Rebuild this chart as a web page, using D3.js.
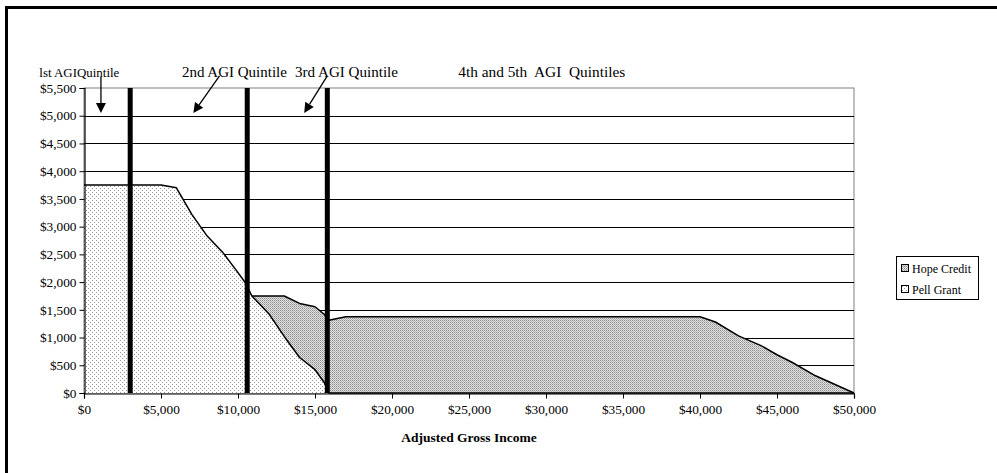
<!DOCTYPE html>
<html><head><meta charset="utf-8">
<script src="https://cdn.jsdelivr.net/npm/d3@7"></script>
<style>
body{margin:0;background:#fff;}
svg{display:block;font-family:"Liberation Serif","Times New Roman",serif;}
</style></head>
<body>
<svg id="chart" width="997" height="473"></svg>
<script>
// ---- data ----
const agi  = [0, 5000, 6000, 7000, 8000, 9000, 10000, 10500, 10900, 12000, 13000, 14000, 15000, 15600, 15900, 17000, 40000, 41000, 42500, 44000, 45000, 46000, 47500, 50000];
const pell = [3750, 3750, 3700, 3220, 2830, 2540, 2170, 1980, 1750, 1430, 1020, 640, 420, 190, 0, 0, 0, 0, 0, 0, 0, 0, 0, 0];
const hope = [0, 0, 0, 0, 0, 0, 0, 0, 0, 320, 730, 975, 1135, 1230, 1310, 1375, 1375, 1280, 1030, 850, 690, 550, 310, 0];
const seriesNames = ["Pell Grant", "Hope Credit"];
const quintileBounds = [3000, 10600, 15800];
const xTicks = [0, 5000, 10000, 15000, 20000, 25000, 30000, 35000, 40000, 45000, 50000];
const yTicks = [0, 500, 1000, 1500, 2000, 2500, 3000, 3500, 4000, 4500, 5000, 5500];
const annotations = [
  {text: "lst AGIQuintile", x: -2900, w: 80, size: 12},
  {text: "2nd AGI Quintile", x: 6360, w: 105, size: 14.5},
  {text: "3rd AGI Quintile", x: 13700, w: 103, size: 14.5},
  {text: "4th and 5th  AGI  Quintiles", x: 24300, w: 167, size: 14.5}
];
const arrows = [
  {x1: 1100, y1: 5700, x2: 1100, y2: 5050},
  {x1: 8800, y1: 5720, x2: 7100, y2: 5050},
  {x1: 15800, y1: 5720, x2: 14300, y2: 5050}
];

const svg = d3.select("#chart");
const L = 84, R = 854, T = 88, B = 393;
const x = d3.scaleLinear().domain([0, 50000]).range([L, R]);
const y = d3.scaleLinear().domain([0, 5500]).range([B, T]);

// outer frame (only top/left visible)
svg.append("rect").attr("x", 6.5).attr("y", 7.5).attr("width", 1100).attr("height", 600)
  .attr("fill", "none").attr("stroke", "#000").attr("stroke-width", 3);

// patterns
const defs = svg.append("defs");
const pp = defs.append("pattern").attr("id", "pellPat").attr("patternUnits", "userSpaceOnUse")
  .attr("width", 4).attr("height", 4);
pp.append("rect").attr("width", 4).attr("height", 4).attr("fill", "#fff");
pp.append("rect").attr("x", 0).attr("y", 0).attr("width", 1).attr("height", 1).attr("fill", "#9a9a9a");
pp.append("rect").attr("x", 2).attr("y", 2).attr("width", 1).attr("height", 1).attr("fill", "#9a9a9a");
const hp = defs.append("pattern").attr("id", "hopePat").attr("patternUnits", "userSpaceOnUse")
  .attr("width", 2).attr("height", 2);
hp.append("rect").attr("width", 2).attr("height", 2).attr("fill", "#e4e4e4");
hp.append("rect").attr("x", 0).attr("y", 0).attr("width", 1).attr("height", 1).attr("fill", "#8a8a8a");
hp.append("rect").attr("x", 1).attr("y", 1).attr("width", 1).attr("height", 1).attr("fill", "#b0b0b0");

// plot border (gray)
svg.append("rect").attr("x", L).attr("y", T).attr("width", R - L).attr("height", B - T)
  .attr("fill", "#fff").attr("stroke", "#808080").attr("stroke-width", 1);

// gridlines
svg.append("g").selectAll("line").data(yTicks.filter(d => d > 0 && d < 5500)).join("line")
  .attr("x1", L).attr("x2", R).attr("y1", d => Math.round(y(d)) + 0.5).attr("y2", d => Math.round(y(d)) + 0.5)
  .attr("stroke", "#000").attr("stroke-width", 1);

// stacked areas
const table = agi.map((a, i) => ({agi: a, "Pell Grant": pell[i], "Hope Credit": hope[i]}));
const stacked = d3.stack().keys(seriesNames)(table);
const area = d3.area().x(d => x(d.data.agi)).y0(d => y(d[0])).y1(d => y(d[1]));
const line = d3.line().x(d => x(d.data.agi)).y(d => y(d[1]));
const fills = {"Pell Grant": "url(#pellPat)", "Hope Credit": "url(#hopePat)"};
svg.append("g").selectAll("path.area").data(stacked).join("path")
  .attr("class", "area").attr("d", area).attr("fill", d => fills[d.key]).attr("stroke", "none");
svg.append("g").selectAll("path.edge").data(stacked).join("path")
  .attr("class", "edge").attr("d", d => line(d.filter((p, i) => d.key === "Pell Grant" || p[1] - p[0] > 0 || (i > 0 && d[i-1][1]-d[i-1][0] > 0) || (i < d.length-1 && d[i+1][1]-d[i+1][0] > 0))))
  .attr("fill", "none").attr("stroke", "#000").attr("stroke-width", 1.5).attr("stroke-linejoin", "round");

// quintile boundary lines
svg.append("g").selectAll("line").data(quintileBounds).join("line")
  .attr("x1", d => x(d)).attr("x2", d => x(d)).attr("y1", T).attr("y2", B)
  .attr("stroke", "#000").attr("stroke-width", 5);

// axes
const fmt = d3.format("$,");
const xAxis = svg.append("g").attr("transform", `translate(0,${B + 0.5})`)
  .call(d3.axisBottom(x).tickValues(xTicks).tickFormat(fmt).tickSize(5).tickPadding(6));
const yAxis = svg.append("g").attr("transform", `translate(${L + 0.5},0)`)
  .call(d3.axisLeft(y).tickValues(yTicks).tickFormat(fmt).tickSize(5).tickPadding(3));
[xAxis, yAxis].forEach(g => {
  g.select(".domain").attr("stroke", "#000").attr("stroke-width", 1.2);
  g.selectAll(".tick line").attr("stroke", "#000");
  g.selectAll("text").attr("font-family", "Liberation Serif, Times New Roman, serif")
    .attr("font-size", 13.3).attr("fill", "#000");
});

// x axis title
svg.append("text").attr("x", (L + R) / 2).attr("y", 442).attr("text-anchor", "middle")
  .attr("font-size", 13.5).attr("font-weight", "bold").text("Adjusted Gross Income");

// annotations
svg.append("g").selectAll("text").data(annotations).join("text")
  .attr("x", d => x(d.x)).attr("y", 77).attr("font-size", d => d.size)
  .attr("textLength", d => d.w).attr("lengthAdjust", "spacingAndGlyphs")
  .style("white-space", "pre").text(d => d.text);

// arrows
const ag = svg.append("g");
arrows.forEach(a => {
  const x1 = x(a.x1), y1 = y(a.y1), x2 = x(a.x2), y2 = y(a.y2);
  const ang = Math.atan2(y2 - y1, x2 - x1);
  const hl = 10, hw = 5;
  const bx = x2 - hl * Math.cos(ang), by = y2 - hl * Math.sin(ang);
  ag.append("line").attr("x1", x1).attr("y1", y1).attr("x2", bx).attr("y2", by)
    .attr("stroke", "#000").attr("stroke-width", 1.3);
  const px = -Math.sin(ang), py = Math.cos(ang);
  ag.append("polygon").attr("points",
    [[x2, y2], [bx + px * hw, by + py * hw], [bx - px * hw, by - py * hw]].map(p => p.join(",")).join(" "))
    .attr("fill", "#000");
});

// legend
const lg = svg.append("g").attr("transform", "translate(896,256)");
lg.append("rect").attr("x", 0.5).attr("y", 0.5).attr("width", 82).attr("height", 43)
  .attr("fill", "#fff").attr("stroke", "#000").attr("stroke-width", 1);
const legendItems = ["Hope Credit", "Pell Grant"];
legendItems.forEach((k, i) => {
  const yy = 13 + i * 21;
  lg.append("rect").attr("x", 5.5).attr("y", yy - 4.5).attr("width", 7).attr("height", 7)
    .attr("fill", fills[k]).attr("stroke", "#000").attr("stroke-width", 1);
  lg.append("text").attr("x", 16).attr("y", yy + 4).attr("font-size", 12).text(k);
});
</script>
</body></html>
